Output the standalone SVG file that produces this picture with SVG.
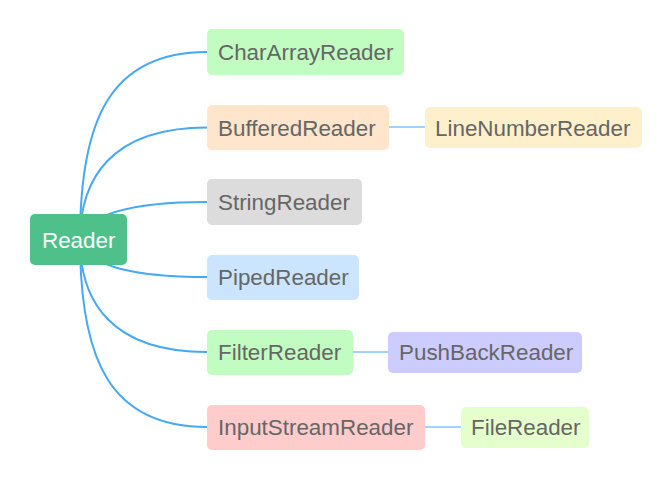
<svg xmlns="http://www.w3.org/2000/svg" width="671" height="480" viewBox="0 0 671 480">
<style>
.t{font-family:"Liberation Sans",Arial,sans-serif;font-size:22.4px;fill:#666666}
.c{fill:none;stroke:#45a8f5;stroke-width:2}
.s{fill:none;stroke:#45a8f5;stroke-width:1.2}
</style>
<rect width="671" height="480" fill="#ffffff"/>
<g id="connectors">
<path class="c" d="M80 240 C80 120 110 52 207 52"/>
<path class="c" d="M80 240 C80 180 110 127.5 207 127.5"/>
<path class="c" d="M80 240 Q90 202 207 202"/>
<path class="c" d="M80 240 Q90 277 207 277"/>
<path class="c" d="M80 240 C80 300 110 352 207 352"/>
<path class="c" d="M80 240 C80 360 110 427 207 427"/>
<path class="s" d="M389 127 H425"/>
<path class="s" d="M353 352 H388"/>
<path class="s" d="M425 427 H461"/>
</g>
<g id="reader"><rect x="30" y="214" width="97" height="51" rx="5" fill="#4dc189"/><text x="42" y="248" class="t" style="fill:#ffffff">Reader</text></g>
<g id="chararrayreader"><rect x="207" y="29" width="197" height="46" rx="5" fill="#c1fdc1"/><text x="218" y="60" class="t">CharArrayReader</text></g>
<g id="bufferedreader"><rect x="207" y="105" width="182" height="45" rx="5" fill="#ffe5cc"/><text x="218" y="135.5" class="t">BufferedReader</text></g>
<g id="stringreader"><rect x="207" y="179" width="155" height="46" rx="5" fill="#dcdcdc"/><text x="218" y="210" class="t">StringReader</text></g>
<g id="pipedreader"><rect x="207" y="255" width="152" height="45" rx="5" fill="#cce5ff"/><text x="218" y="285" class="t">PipedReader</text></g>
<g id="filterreader"><rect x="207" y="330" width="146" height="45" rx="5" fill="#c1fdc1"/><text x="218" y="360" class="t">FilterReader</text></g>
<g id="inputstreamreader"><rect x="207" y="405" width="218" height="45" rx="5" fill="#ffcccc"/><text x="218" y="435" class="t">InputStreamReader</text></g>
<g id="linenumberreader"><rect x="425" y="107" width="217" height="41" rx="5" fill="#fff0cc"/><text x="435" y="135.5" class="t">LineNumberReader</text></g>
<g id="pushbackreader"><rect x="388" y="332" width="194" height="41" rx="5" fill="#ccccff"/><text x="399" y="360" class="t">PushBackReader</text></g>
<g id="filereader"><rect x="461" y="407" width="128" height="41" rx="5" fill="#e5ffcc"/><text x="471" y="435" class="t">FileReader</text></g>
</svg>
